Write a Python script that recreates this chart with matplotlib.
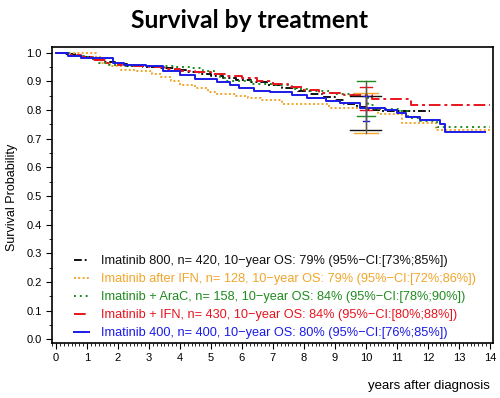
import numpy as np
import matplotlib
matplotlib.use('Agg')
import matplotlib.pyplot as plt
from matplotlib.ticker import MultipleLocator

plt.rcParams.update({
    'font.family': ['Liberation Sans', 'DejaVu Sans'],
    'font.size': 8,
})

# ---- data (Kaplan-Meier steps) ----
t_800 = [0, 0.3, 0.6, 0.9, 1.2, 1.5, 1.9, 2.3, 2.8, 3.3, 3.8, 4.2, 4.6, 5.0, 5.4,
         5.8, 6.3, 6.8, 7.3, 7.8, 8.2, 8.6, 9.0, 9.3, 9.7, 10.0, 10.5, 12.06]
s_800 = [1.0, 0.995, 0.99, 0.984, 0.975, 0.968, 0.96, 0.955, 0.95, 0.947, 0.94,
         0.934, 0.927, 0.92, 0.913, 0.905, 0.898, 0.888, 0.878, 0.866, 0.855,
         0.845, 0.835, 0.822, 0.81, 0.8, 0.795, 0.795]

t_ifn_after = [0, 1.28, 1.45, 1.75, 2.1, 2.6, 3.1, 3.4, 3.7, 4.0, 4.5, 4.9, 5.2,
               5.8, 6.2, 6.6, 7.3, 8.8, 10.4, 11.15, 12.25, 14.0]
s_ifn_after = [1.0, 0.985, 0.965, 0.955, 0.94, 0.935, 0.925, 0.915, 0.9, 0.888,
               0.876, 0.862, 0.856, 0.85, 0.842, 0.834, 0.82, 0.808, 0.785,
               0.754, 0.73, 0.73]

t_arac = [0, 0.5, 0.9, 1.2, 1.4, 1.7, 2.2, 3.0, 3.8, 4.3, 4.75, 5.1, 5.3, 5.5,
          6.3, 7.0, 7.6, 8.2, 8.9, 10.08, 10.3, 11.1, 11.35, 11.75, 12.3, 14.0]
s_arac = [1.0, 0.99, 0.985, 0.975, 0.965, 0.958, 0.955, 0.952, 0.95, 0.945,
          0.937, 0.925, 0.912, 0.9, 0.89, 0.887, 0.875, 0.866, 0.857, 0.818,
          0.802, 0.795, 0.772, 0.762, 0.742, 0.742]

t_ifn = [0, 0.4, 0.8, 1.2, 1.6, 2.0, 2.5, 3.0, 3.5, 4.0, 4.5, 5.0, 5.5, 6.0,
         6.5, 7.0, 7.5, 8.0, 8.5, 9.3, 10.2, 11.45, 14.0]
s_ifn = [1.0, 0.993, 0.985, 0.975, 0.965, 0.957, 0.953, 0.949, 0.943, 0.937,
         0.931, 0.925, 0.918, 0.91, 0.901, 0.892, 0.882, 0.87, 0.86, 0.851,
         0.84, 0.818, 0.818]

t_400 = [0, 0.4, 0.8, 1.85, 2.2, 2.9, 3.45, 4.0, 4.5, 5.2, 5.6, 5.9, 6.4, 6.9,
         7.6, 8.1, 8.7, 9.15, 9.8, 10.6, 11.0, 11.3, 11.75, 12.4, 12.55, 13.85]
s_400 = [1.0, 0.99, 0.983, 0.965, 0.958, 0.952, 0.937, 0.922, 0.907, 0.897,
         0.887, 0.876, 0.868, 0.862, 0.852, 0.841, 0.832, 0.823, 0.808, 0.8,
         0.79, 0.777, 0.765, 0.752, 0.724, 0.724]

# 10-year CI (lower, upper) and cap half-widths
ci_lo = [0.73, 0.72, 0.78, 0.80, 0.76]
ci_hi = [0.85, 0.86, 0.90, 0.88, 0.85]
cap_hw = [0.5, 0.4, 0.3, 0.19, 0.1]

labels = [
    'Imatinib 800, n= 420, 10\u2212year OS: 79% (95%\u2212CI:[73%;85%])',
    'Imatinib after IFN, n= 128, 10\u2212year OS: 79% (95%\u2212CI:[72%;86%])',
    'Imatinib + AraC, n= 158, 10\u2212year OS: 84% (95%\u2212CI:[78%;90%])',
    'Imatinib + IFN, n= 430, 10\u2212year OS: 84% (95%\u2212CI:[80%;88%])',
    'Imatinib 400, n= 400, 10\u2212year OS: 80% (95%\u2212CI:[76%;85%])',
]
colors = ['#111111', '#F2A52A', '#1E8C1E', '#E8141E', '#1A1AE6']
styles = [(0, (4, 1.5, 1, 1.5)), (0, (1, 1.2)), (0, (1, 2)),
          (0, (6, 2, 1.5, 2)), '-']

curves = [(t_800, s_800), (t_ifn_after, s_ifn_after), (t_arac, s_arac),
          (t_ifn, s_ifn), (t_400, s_400)]

fig = plt.figure(figsize=(5.0, 3.98), dpi=100)
ax = fig.add_axes([0.104, 0.138, 0.882, 0.744])

lines = []
for (t, s), c, ls, lab in zip(curves, colors, styles, labels):
    ln, = ax.step(t, s, where='post', color=c, ls=ls, lw=1.4, label=lab)
    lines.append(ln)

# confidence intervals at 10 years
for lo, hi, hw, c in zip(ci_lo, ci_hi, cap_hw, colors):
    ax.plot([10, 10], [lo, hi], color=c, lw=0.9)
    ax.plot([10 - hw, 10 + hw], [lo, lo], color=c, lw=1.0)
    ax.plot([10 - hw, 10 + hw], [hi, hi], color=c, lw=1.0)
ax.plot([10, 10], [min(ci_lo), max(ci_hi)], color='0.35', lw=0.9)

ax.set_xlim(-0.13, 14.1)
ax.set_ylim(-0.013, 1.02)
ax.set_xticks(range(0, 15))
ax.set_yticks(np.arange(0, 1.01, 0.1))
ax.set_yticklabels([f'{v:.1f}' for v in np.arange(0, 1.01, 0.1)])
ax.xaxis.set_minor_locator(MultipleLocator(0.125))
ax.yaxis.set_minor_locator(MultipleLocator(0.05))
ax.tick_params(which='major', direction='out', length=4, width=0.8, labelsize=8)
ax.tick_params(which='minor', direction='out', length=2, width=0.6)
for sp in ax.spines.values():
    sp.set_linewidth(1.2)

leg = ax.legend(handles=lines, loc='lower left', bbox_to_anchor=(0.026, -0.022),
                frameon=False, fontsize=9.2, handlelength=1.2, handletextpad=0.9,
                labelspacing=0.475, borderpad=0.3)
for txt, c in zip(leg.get_texts(), colors):
    txt.set_color(c)

fig.text(0.5, 0.948, 'Survival by treatment', ha='center', va='center',
         fontsize=17.8, fontweight='bold', family=['Lato', 'DejaVu Sans'])
fig.text(0.025, 0.505, 'Survival Probability', rotation=90, ha='center',
         va='center', fontsize=9)
fig.text(0.98, 0.03, 'years after diagnosis', ha='right', va='center',
         fontsize=9.5)

fig.savefig('out.png', dpi=100)
